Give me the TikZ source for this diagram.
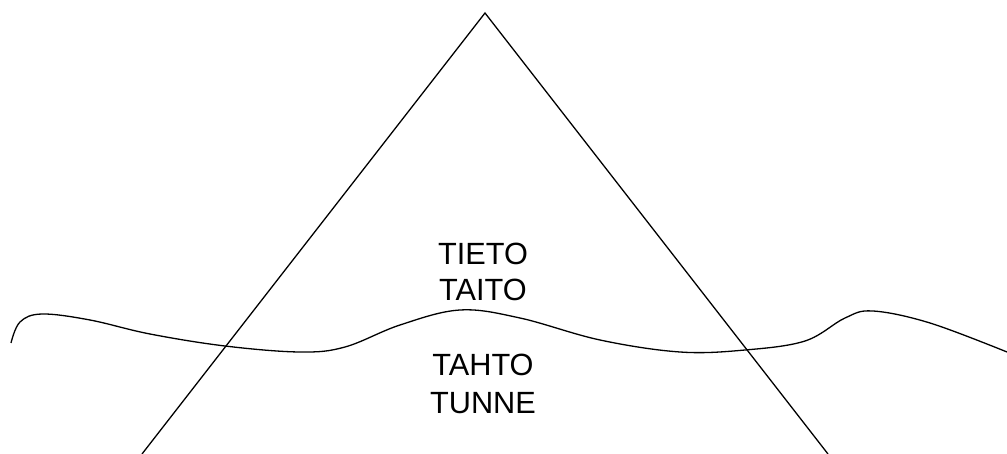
\documentclass[tikz,border=0pt]{standalone}
\usepackage{fontspec}
\setmainfont{Liberation Sans}
\begin{document}
\begin{tikzpicture}[x=1pt,y=-1pt,
  lbl/.style={anchor=base,inner sep=0pt,font=\fontsize{30.7}{36}\selectfont},
  stroke/.style={draw=black,line width=1.3pt,line join=miter}]
\useasboundingbox (0,0) rectangle (1007,454);
\coordinate (apex) at (485,13);
\coordinate (bl) at (142,454);
\coordinate (br) at (828,454);
\draw[stroke] (bl) -- (apex) -- (br);
\draw[stroke] plot[smooth,tension=0.6] coordinates {
  (11,343) (20,322) (42,314) (90,320) (150,334) (225,346) (300,352) (345,347)
  (400,325) (460,310) (520,318) (600,340) (680,352) (745,350) (805,341)
  (845,318) (873,311) (930,323) (1007,352)};
\node[lbl] (t1) at (483,265) {TIETO};
\node[lbl] (t2) at (483,301) {TAITO};
\node[lbl] (t3) at (483,375) {TAHTO};
\node[lbl] (t4) at (483,413) {TUNNE};
\end{tikzpicture}
\end{document}
